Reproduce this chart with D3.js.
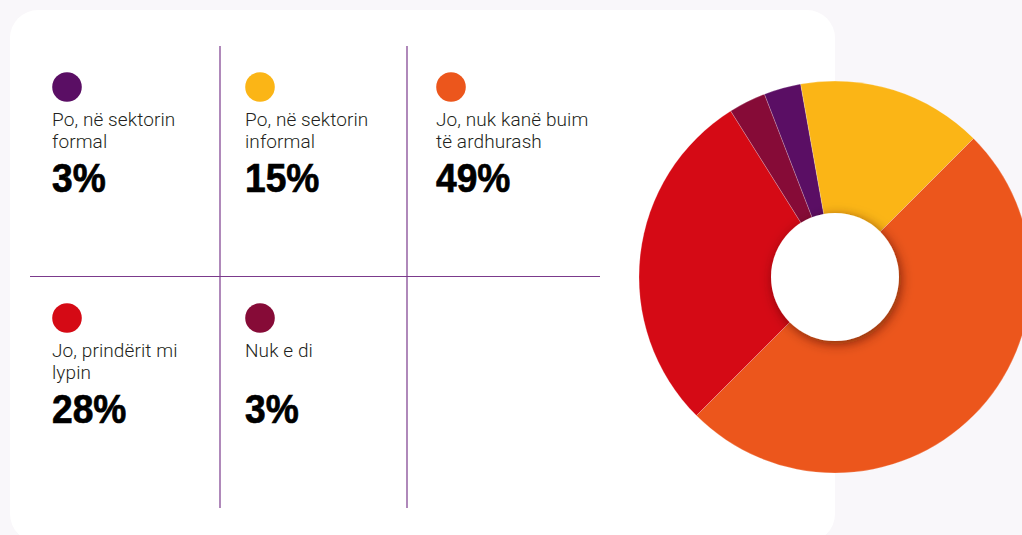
<!DOCTYPE html>
<html>
<head>
<meta charset="utf-8">
<script src="https://cdn.jsdelivr.net/npm/d3@7"></script>
<style>
  html, body { margin: 0; padding: 0; background: #f9f7fa; overflow: hidden; }
  .lbl { font-family: Roboto, "Liberation Sans", sans-serif; font-weight: 300; font-size: 19px; letter-spacing: 0.1px; fill: #231f20; }
  .pct { font-family: "Liberation Sans", Arial, sans-serif; font-weight: 700; font-size: 40px; fill: #000; stroke: #000; stroke-width: 0.7px; }
</style>
</head>
<body>
<div id="container"></div>
<script>
// Width and height
let w = 1022;
let h = 535;

// data, in slice order (clockwise from top-left)
let categories = ["Po, në sektorin formal", "Po, në sektorin informal", "Jo, nuk kanë buim të ardhurash", "Jo, prindërit mi lypin", "Nuk e di"];
let labelLines = [["Po, në sektorin", "formal"], ["Po, në sektorin", "informal"], ["Jo, nuk kanë buim", "të ardhurash"], ["Jo, prindërit mi", "lypin"], ["Nuk e di"]];
let values = [3, 15, 49, 28, 3];
let colors = ["#5a0e64", "#fbb516", "#ec561c", "#d50a15", "#860b37"];

let svg = d3.select("#container")
  .append("svg")
  .attr("width", w)
  .attr("height", h);

let defs = svg.append("defs");
let shadow = defs.append("filter")
  .attr("id", "holeShadow")
  .attr("x", "-50%").attr("y", "-50%")
  .attr("width", "200%").attr("height", "200%");
shadow.append("feDropShadow")
  .attr("dx", 2).attr("dy", 3)
  .attr("stdDeviation", 6)
  .attr("flood-color", "#3a0a00")
  .attr("flood-opacity", 0.6);

// white card
svg.append("rect")
  .attr("x", 10).attr("y", 10)
  .attr("width", 825).attr("height", 532)
  .attr("rx", 28)
  .attr("fill", "#fff");

// grid lines
let gridG = svg.append("g").attr("stroke", "#7b3a8c").attr("stroke-width", 1.2);
[220, 407].forEach(function(x) {
  gridG.append("line").attr("x1", x).attr("x2", x).attr("y1", 46).attr("y2", 508);
});
gridG.append("line").attr("x1", 30).attr("x2", 600).attr("y1", 276.5).attr("y2", 276.5);

// legend cells
let colX = [52, 245, 436];
let rowY = [87, 318];

let cells = svg.append("g").selectAll("g")
  .data(categories)
  .enter()
  .append("g")
  .attr("transform", function(d, i) {
    return "translate(" + colX[i % 3] + "," + rowY[Math.floor(i / 3)] + ")";
  });

cells.append("circle")
  .attr("cx", 15).attr("cy", 0).attr("r", 14.8)
  .attr("fill", function(d, i) { return colors[i]; });

cells.each(function(d, i) {
  let g = d3.select(this);
  labelLines[i].forEach(function(line, j) {
    g.append("text")
      .attr("class", "lbl")
      .attr("x", 0)
      .attr("y", 38.5 + j * 22.5)
      .text(line);
  });
  g.append("text")
    .attr("class", "pct")
    .attr("transform", "translate(0,104.5) scale(0.93,1)")
    .text(values[i] + "%");
});

// donut
let cx = 835, cy = 277;
let outerR = 196, holeR = 64;

let startA = 45 * Math.PI / 180 - 2 * Math.PI * (values[0] + values[1]) / d3.sum(values);
let pie = d3.pie().sort(null).value(function(d) { return d; })
  .startAngle(startA)
  .endAngle(startA + 2 * Math.PI);
let arc = d3.arc().innerRadius(0).outerRadius(outerR);

let pieG = svg.append("g").attr("transform", "translate(" + cx + "," + cy + ")");
pieG.selectAll("path")
  .data(pie(values))
  .enter()
  .append("path")
  .attr("d", arc)
  .attr("fill", function(d, i) { return colors[i]; })
  .attr("stroke", "rgba(255,255,255,0.35)")
  .attr("stroke-width", 0.6);

pieG.append("circle")
  .attr("r", holeR)
  .attr("fill", "#fff")
  .attr("filter", "url(#holeShadow)");
</script>
</body>
</html>
